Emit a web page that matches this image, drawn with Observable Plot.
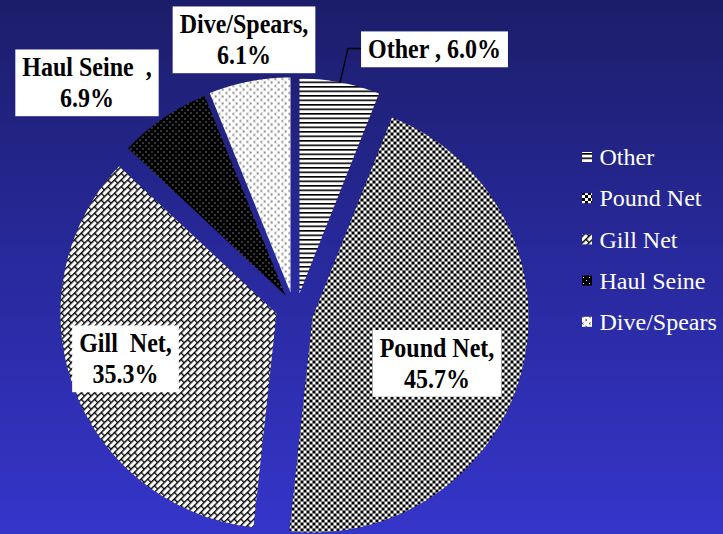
<!DOCTYPE html>
<html><head><meta charset="utf-8">
<script src="https://cdn.jsdelivr.net/npm/d3@7"></script>
<script src="https://cdn.jsdelivr.net/npm/@observablehq/plot@0.6"></script>
<style>
html,body{margin:0;padding:0;width:723px;height:534px;overflow:hidden;}
body{background:linear-gradient(180deg,#1c1d69 0%,#272898 45%,#3535ca 100%);}
#chart svg{display:block;}
</style></head><body><div id="chart"></div>
<script>
// ---- data ----
const categories = ["Other", "Pound Net", "Gill Net", "Haul Seine", "Dive/Spears"];
const shares = [6.0, 45.7, 35.3, 6.9, 6.1];
const labelTexts = ["Other , 6.0%", "Pound Net,\n45.7%", "Gill  Net,\n35.3%", "Haul Seine  ,\n6.9%", "Dive/Spears,\n6.1%"];

// ---- layout ----
const W = 723, H = 534;
const pie = {cx: 294.5, cy: 308, rx: 216, ry: 215};
const explode = [[4.5, -15], [17.5, 9], [-18.5, 5], [-9.5, -13], [-4.5, -16]];
const labelPos = [[434, 48], [436.5, 362], [125, 357.5], [86.5, 81.5], [243.5, 38.5]];
const legendLayout = {x1: 582, x2: 592, textX: 599, y0: 157, dy: 41.2, sw: 10};
const SERIF = "Liberation Serif, serif";
const labelStretch = 1.12;

const arcs = d3.pie().sort(null).value(d => d)(shares);
const slicePoints = arcs.map((a, i) => {
  const [ox, oy] = explode[i];
  const pts = [{x: pie.cx + ox, y: pie.cy + oy}];
  const n = Math.max(10, Math.ceil((a.endAngle - a.startAngle) / 0.01));
  for (let k = 0; k <= n; k++) {
    const t = a.startAngle + (a.endAngle - a.startAngle) * k / n;
    pts.push({x: pie.cx + ox + pie.rx * Math.sin(t), y: pie.cy + oy - pie.ry * Math.cos(t)});
  }
  pts.push(pts[0]);
  return pts;
});

// leader line for the "Other" label: from slice mid-angle outer point to its label
const a0 = arcs[0], mid0 = (a0.startAngle + a0.endAngle) / 2;
const leadStart = {x: pie.cx + explode[0][0] + pie.rx * Math.sin(mid0), y: pie.cy + explode[0][1] - pie.ry * Math.cos(mid0)};
const leader = [leadStart, {x: leadStart.x + 8, y: labelPos[0][1]}, {x: labelPos[0][0], y: labelPos[0][1]}];

const labels = labelTexts.map((t, i) => ({text: t, x: labelPos[i][0], y: labelPos[i][1]}));
const legendRows = categories.map((c, i) => ({name: c, i, y: legendLayout.y0 + i * legendLayout.dy}));

const marks = [];
slicePoints.forEach((pts, i) => {
  marks.push(Plot.line(pts, {x: "x", y: "y", fill: `url(#pat${i})`, stroke: "none", curve: "linear"}));
});
marks.push(Plot.line(leader, {x: "x", y: "y", stroke: "#000", strokeWidth: 1.3}));
marks.push(Plot.text(labels, {x: "x", y: "y", text: "text", fill: "#000", fontSize: 24, fontWeight: "bold",
  fontFamily: SERIF, lineHeight: 1.15, textAnchor: "middle"}));
legendRows.forEach(r => {
  marks.push(Plot.rect([r], {x1: () => legendLayout.x1, x2: () => legendLayout.x2,
    y1: d => d.y - legendLayout.sw / 2, y2: d => d.y + legendLayout.sw / 2, fill: `url(#pat${r.i})`}));
});
marks.push(Plot.text(legendRows, {x: () => legendLayout.textX, y: "y", text: "name", fill: "#fff", fontSize: 24,
  fontFamily: SERIF, textAnchor: "start"}));

const svg = Plot.plot({
  width: W, height: H, margin: 0,
  x: {domain: [0, W], range: [0, W], axis: null},
  y: {domain: [0, H], range: [0, H], axis: null},
  style: {background: "transparent", overflow: "hidden", fontFamily: SERIF},
  marks
});
document.getElementById("chart").appendChild(svg);

// pattern definitions
d3.select(svg).insert("defs", ":first-child").html(`
<pattern id="pat0" patternUnits="userSpaceOnUse" width="8" height="4.5">
  <rect width="8" height="4.5" fill="#fff"/><rect y="0" width="8" height="1.6" fill="#000"/>
</pattern>
<pattern id="pat1" patternUnits="userSpaceOnUse" width="6" height="6">
  <rect width="6" height="6" fill="#fff"/><rect width="3" height="3" fill="#000"/><rect x="3" y="3" width="3" height="3" fill="#000"/>
</pattern>
<pattern id="pat2" patternUnits="userSpaceOnUse" width="9.4" height="9.4" patternTransform="rotate(-45)">
  <rect width="9.4" height="9.4" fill="#fff"/>
  <path d="M0,0.6H9.4M0,5.3H9.4M0.6,0.6V5.3M5.3,5.3V9.9" stroke="#000" stroke-width="1.4" fill="none"/>
</pattern>
<pattern id="pat3" patternUnits="userSpaceOnUse" width="6" height="6">
  <rect width="6" height="6" fill="#000"/><rect x="1" y="1" width="1" height="1" fill="#ddd"/><rect x="4" y="4" width="1" height="1" fill="#ddd"/>
</pattern>
<pattern id="pat4" patternUnits="userSpaceOnUse" width="7" height="7">
  <rect width="7" height="7" fill="#fff"/>
  <path d="M2.6,0.6L1,1.5L2.6,2.4M4.4,4.1L6,5L4.4,5.9" stroke="#222" stroke-width="0.8" fill="none"/>
</pattern>`);

// fonts + white boxes behind slice labels, sized from the text
d3.select(svg).selectAll("text").each(function() {
  this.style.fontFamily = SERIF;
  this.style.whiteSpace = "pre";
});
d3.select(svg).selectAll("text").filter(function() { return this.textContent.includes("%"); }).each(function() {
  const b = this.getBBox();
  const padX = 7, padY = 3;
  const r = document.createElementNS("http://www.w3.org/2000/svg", "rect");
  r.setAttribute("x", b.x - padX); r.setAttribute("y", b.y - padY);
  r.setAttribute("width", b.width + 2 * padX); r.setAttribute("height", b.height + 2 * padY);
  r.setAttribute("fill", "#fff");
  r.setAttribute("stroke", "none");
  const cx = b.x + b.width / 2, cy = b.y + b.height / 2;
  const tr = (this.getAttribute("transform") || "") + ` translate(${cx},${cy}) scale(1,${labelStretch}) translate(${-cx},${-cy})`;
  this.setAttribute("transform", tr);
  r.setAttribute("transform", tr);
  this.parentNode.insertBefore(r, this);
});
</script></body></html>
